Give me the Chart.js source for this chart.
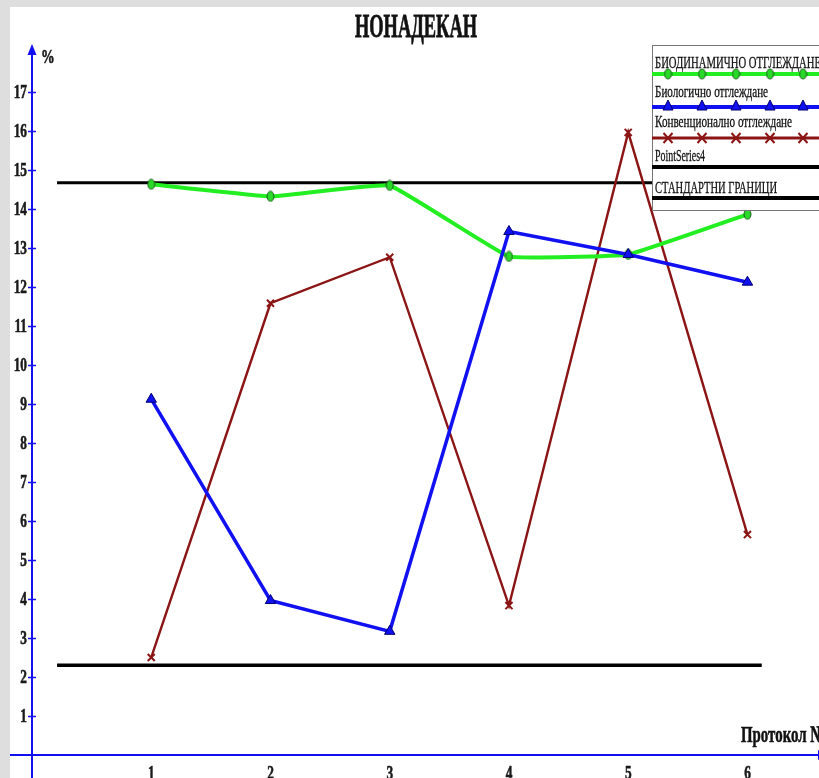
<!DOCTYPE html>
<html>
<head>
<meta charset="utf-8">
<title>НОНАДЕКАН</title>
<script src="https://cdn.jsdelivr.net/npm/chart.js@4.4.0/dist/chart.umd.min.js"></script>
<style>
    body { margin: 0; background: #dedede; overflow: hidden; }
    #myChart { display: block; }
</style>
</head>
<body>
<canvas id="myChart" width="819" height="778"></canvas>
<script>
// data
const protocols = [1, 2, 3, 4, 5, 6];
const bioDynamic = [14.63, 14.32, 14.60, 12.78, 12.83, 13.86];
const biological = [9.12, 3.96, 3.17, 13.42, 12.83, 12.12];
const conventional = [2.50, 11.58, 12.76, 3.83, 15.96, 5.65];
const limitX = [0.21, 6.12];
const lowerLimit = [2.30, 2.30];
const upperLimit = [14.67, 14.67];
const yTicks = [1, 2, 3, 4, 5, 6, 7, 8, 9, 10, 11, 12, 13, 14, 15, 16, 17];

const seriesNames = ['БИОДИНАМИЧНО ОТГЛЕЖДАНЕ', 'Биологично отглеждане', 'Конвенционално отглеждане', 'PointSeries4', 'СТАНДАРТНИ ГРАНИЦИ'];

const GREEN = '#22ee22';
const BLUE = '#1010f0';
const RED = '#8b1414';
const SERIF = "'Liberation Serif', 'DejaVu Serif', serif";

// green ellipse marker
function makeEllipse() {
    const c = document.createElement('canvas');
    c.width = 9;
    c.height = 12;
    const g = c.getContext('2d');
    g.beginPath();
    g.ellipse(4.5, 6, 3.5, 5, 0, 0, Math.PI * 2);
    g.fillStyle = '#2ad82a';
    g.fill();
    g.lineWidth = 1;
    g.strokeStyle = '#1b5e1b';
    g.stroke();
    return c;
}
const ellipseImg = makeEllipse();

function toPoints(xs, ys) {
    return xs.map((x, i) => ({ x: x, y: ys[i] }));
}

// horizontally squeezed text (the original uses a narrow Times)
function squeezeText(ctx, text, x, y, font, sx, align, baseline, color, heavy) {
    ctx.save();
    ctx.font = font;
    ctx.translate(x, y);
    ctx.scale(sx, 1);
    ctx.textAlign = align;
    ctx.textBaseline = baseline;
    ctx.fillStyle = color;
    ctx.fillText(text, 0, 0);
    if (heavy) {
        ctx.strokeStyle = color;
        ctx.lineWidth = heavy;
        ctx.strokeText(text, 0, 0);
    }
    ctx.restore();
}

function fitText(ctx, text, x, y, font, width, baseline, color, heavy) {
    ctx.save();
    ctx.font = font;
    const w = ctx.measureText(text).width;
    ctx.restore();
    squeezeText(ctx, text, x, y, font, width / w, 'left', baseline, color, heavy);
}

function drawTriangle(ctx, x, y) {
    ctx.beginPath();
    ctx.moveTo(x, y - 6);
    ctx.lineTo(x + 5, y + 4);
    ctx.lineTo(x - 5, y + 4);
    ctx.closePath();
    ctx.fillStyle = BLUE;
    ctx.fill();
    ctx.strokeStyle = '#000070';
    ctx.lineWidth = 1;
    ctx.stroke();
}

function drawCross(ctx, x, y) {
    ctx.beginPath();
    ctx.moveTo(x - 4.5, y - 5);
    ctx.lineTo(x + 4.5, y + 5);
    ctx.moveTo(x + 4.5, y - 5);
    ctx.lineTo(x - 4.5, y + 5);
    ctx.strokeStyle = RED;
    ctx.lineWidth = 2;
    ctx.stroke();
}

const backgroundPlugin = {
    id: 'pageBackground',
    beforeDraw(chart) {
        const ctx = chart.ctx;
        ctx.save();
        ctx.fillStyle = '#dedede';
        ctx.fillRect(0, 0, chart.width, chart.height);
        ctx.fillStyle = '#ffffff';
        ctx.fillRect(10, 7, chart.width - 10, chart.height - 7);
        ctx.restore();
    }
};

// axis extensions, arrows, tick marks and all the texts
const axisPlugin = {
    id: 'axisDecor',
    afterDraw(chart) {
        const ctx = chart.ctx;
        const xs = chart.scales.x;
        const ys = chart.scales.y;
        const x0 = xs.getPixelForValue(0);
        const y0 = ys.getPixelForValue(0);
        const area = chart.chartArea;

        ctx.save();
        ctx.strokeStyle = BLUE;
        ctx.fillStyle = BLUE;
        ctx.lineWidth = 2;
        ctx.beginPath();
        ctx.moveTo(x0, area.top + 6);
        ctx.lineTo(x0, chart.height);
        ctx.moveTo(10, y0);
        ctx.lineTo(chart.width, y0);
        ctx.stroke();

        // arrows
        ctx.beginPath();
        ctx.moveTo(x0, area.top - 1);
        ctx.lineTo(x0 + 4.5, area.top + 10);
        ctx.lineTo(x0 - 4.5, area.top + 10);
        ctx.closePath();
        ctx.fill();
        ctx.beginPath();
        ctx.moveTo(chart.width + 9, y0);
        ctx.lineTo(chart.width - 1, y0 - 5);
        ctx.lineTo(chart.width - 1, y0 + 5);
        ctx.closePath();
        ctx.fill();

        // y ticks
        ctx.lineWidth = 1.5;
        yTicks.forEach((v) => {
            const py = Math.round(ys.getPixelForValue(v)) + 0.5;
            ctx.beginPath();
            ctx.moveTo(x0 - 4, py);
            ctx.lineTo(x0 + 4, py);
            ctx.stroke();
            squeezeText(ctx, String(v), x0 - 5, py + 1, 'bold 19px ' + SERIF, 0.7, 'right', 'middle', '#1a1a1a', 0.6);
        });
        ctx.restore();

        protocols.forEach((p) => {
            squeezeText(ctx, String(p), xs.getPixelForValue(p), 765, 'bold 19px ' + SERIF, 0.7, 'center', 'top', '#1a1a1a', 0.6);
        });

        squeezeText(ctx, '%', x0 + 9, 63, 'bold 19px ' + SERIF, 0.72, 'left', 'alphabetic', '#1a1a1a', 0.6);
        fitText(ctx, 'НОНАДЕКАН', 355, 37, 'bold 33px ' + SERIF, 122, 'alphabetic', '#111', 0.8);
        squeezeText(ctx, 'Протокол №', 741, 742, 'bold 24px ' + SERIF, 0.62, 'left', 'alphabetic', '#111', 0.6);
    }
};

// legend box in the top right corner
const legendPlugin = {
    id: 'boxLegend',
    afterDraw(chart) {
        const ctx = chart.ctx;
        const left = 652, top = 45, bottom = 210;
        const marks = [668, 702, 736, 770, 803];
        const textY = [68, 97, 127, 161, 193];
        const textW = [166, 113, 137, 50, 122];
        const lineY = [74, 107, 138, 167, 198];
        const lineW = [4, 4, 3, 4, 4];
        const lineC = [GREEN, BLUE, RED, '#000', '#000'];

        ctx.save();
        ctx.fillStyle = '#fff';
        ctx.fillRect(left, top, chart.width - left, bottom - top);
        ctx.strokeStyle = '#777';
        ctx.lineWidth = 1;
        ctx.strokeRect(left + 0.5, top + 0.5, chart.width, bottom - top);

        seriesNames.forEach((name, i) => {
            const size = i === 0 || i === 4 ? 17 : 16;
            fitText(ctx, name, 655, textY[i], size + 'px ' + SERIF, textW[i], 'alphabetic', '#111', 0.3);
            ctx.beginPath();
            ctx.moveTo(left, lineY[i]);
            ctx.lineTo(chart.width, lineY[i]);
            ctx.strokeStyle = lineC[i];
            ctx.lineWidth = lineW[i];
            ctx.stroke();
            marks.forEach((mx) => {
                if (i === 0) ctx.drawImage(ellipseImg, mx - 4.5, lineY[i] - 6);
                if (i === 1) drawTriangle(ctx, mx, lineY[i] - 1);
                if (i === 2) drawCross(ctx, mx, lineY[i]);
            });
        });
        ctx.restore();
    }
};

const ctx = document.getElementById('myChart').getContext('2d');
const lineChart = new Chart(ctx, {
    type: 'line',
    data: {
        datasets: [
            {
                label: seriesNames[0],
                data: toPoints(protocols, bioDynamic),
                borderColor: GREEN,
                borderWidth: 4,
                tension: 0.08,
                pointStyle: ellipseImg,
                order: 2,
            },
            {
                label: seriesNames[1],
                data: toPoints(protocols, biological),
                borderColor: BLUE,
                borderWidth: 3.5,
                pointStyle: 'triangle',
                pointRadius: 6,
                pointBackgroundColor: BLUE,
                pointBorderColor: '#000070',
                pointBorderWidth: 1,
                order: 1,
            },
            {
                label: seriesNames[2],
                data: toPoints(protocols, conventional),
                borderColor: RED,
                borderWidth: 2.4,
                pointStyle: 'crossRot',
                pointRadius: 5,
                pointBorderColor: RED,
                pointBorderWidth: 2,
                order: 3,
            },
            {
                label: seriesNames[3],
                data: toPoints(limitX, lowerLimit),
                borderColor: '#000',
                borderWidth: 3.5,
                pointRadius: 0,
                order: 10,
            },
            {
                label: seriesNames[4],
                data: toPoints(limitX, upperLimit),
                borderColor: '#000',
                borderWidth: 3,
                pointRadius: 0,
                order: 10,
            },
        ],
    },
    options: {
        responsive: false,
        animation: false,
        devicePixelRatio: 1,
        layout: { autoPadding: false, padding: { top: 45, right: 0, left: 0, bottom: 0 } },
        plugins: {
            legend: { display: false },
            title: { display: false },
            tooltip: { enabled: false },
        },
        scales: {
            x: {
                type: 'linear',
                min: 0,
                max: 6.6,
                ticks: { display: false },
                grid: { display: false },
                border: { display: false },
                afterFit: (scale) => { scale.height = 23; },
            },
            y: {
                min: 0,
                max: 18.2,
                ticks: { display: false },
                grid: { display: false },
                border: { display: false },
                afterFit: (scale) => { scale.width = 32; },
            },
        },
    },
    plugins: [backgroundPlugin, axisPlugin, legendPlugin],
});
</script>
</body>
</html>
